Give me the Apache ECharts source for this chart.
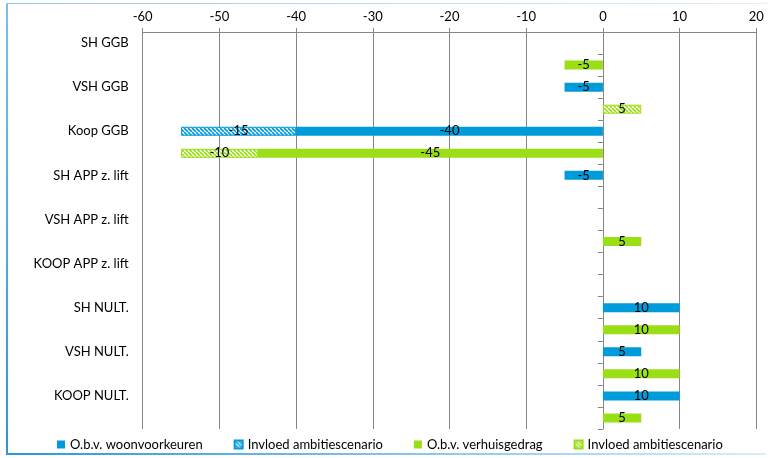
<!DOCTYPE html>
<html>
<head>
<meta charset="utf-8">
<script src="https://cdn.jsdelivr.net/npm/echarts@6/dist/echarts.min.js"></script>
<style>
  html, body { margin: 0; padding: 0; background: #ffffff; }
  #wrap { position: relative; width: 774px; height: 458px; }
  #chart { position: absolute; left: 0; top: 0; width: 774px; height: 458px; }
  .fl { position: absolute; left: 6px; top: 3px; width: 2px; height: 451px; background: linear-gradient(to bottom, #7cc0e8, #2b97d6); }
  .ft { position: absolute; left: 6px; top: 3px; width: 762px; height: 1px; background: linear-gradient(to right, #8fcaec, #e3f2fa); }
  .fb { position: absolute; left: 6px; top: 453px; width: 760px; height: 2px; background: linear-gradient(to right, #2b97d6, #d9eef9); }
</style>
</head>
<body>
<div id="wrap">
  <div id="chart"></div>
  <div class="fl"></div><div class="ft"></div><div class="fb"></div>
</div>
<script>
// ---- data ----
var categories = ['SH GGB', 'VSH GGB', 'Koop GGB', 'SH APP z. lift', 'VSH APP z. lift', 'KOOP APP z. lift', 'SH NULT.', 'VSH NULT.', 'KOOP NULT.'];
var woonvoorkeuren      = [null, -5, -40, -5, null, null, 10, 5, 10];
var woonAmbitie         = [null, null, -15, null, null, null, null, null, null];
var verhuisgedrag       = [-5, null, -45, null, 5, null, 10, 10, 5];
var verhuisAmbitie      = [null, 5, -10, null, null, null, null, null, null];
var xTicks = { min: -60, max: 20, interval: 10 };
var seriesNames = ['O.b.v. woonvoorkeuren', 'Invloed ambitiescenario', 'O.b.v. verhuisgedrag', 'Invloed ambitiescenario '];

var BLUE = '#009bda';
var GREEN = '#9ade16';

function hatch(color) {
  var c = document.createElement('canvas');
  c.width = 4; c.height = 4;
  var ctx = c.getContext('2d');
  ctx.fillStyle = '#ffffff';
  ctx.fillRect(0, 0, 4, 4);
  ctx.strokeStyle = color;
  ctx.lineWidth = 1.6;
  for (var k = -4; k <= 4; k += 4) {
    ctx.beginPath();
    ctx.moveTo(k, 0);
    ctx.lineTo(k + 4, 4);
    ctx.stroke();
  }
  return { image: c, repeat: 'repeat' };
}

// Each category occupies two slots: first for the woonvoorkeuren bar, second for verhuisgedrag.
var slots = [];
categories.forEach(function (c) { slots.push(c); slots.push(''); });
function toSlots(arr, offset) {
  var out = [];
  for (var i = 0; i < slots.length; i++) out.push(null);
  arr.forEach(function (v, i) { out[i * 2 + offset] = v; });
  return out;
}

var FONT = 'Lato';
var labelOpt = {
  show: true, position: 'inside', color: '#000', fontFamily: FONT, fontSize: 13,
  formatter: function (p) { return p.value == null ? '' : String(p.value); }
};
function bar(name, data, color, border) {
  return {
    name: name, type: 'bar', stack: 'all', yAxisIndex: 0, barWidth: 9,
    data: data,
    itemStyle: border ? { color: color, borderColor: border, borderWidth: 1 } : { color: color },
    label: labelOpt,
    emphasis: { disabled: true },
    animation: false
  };
}

var chart = echarts.init(document.getElementById('chart'));
chart.setOption({
  animation: false,
  grid: { left: 142.7, right: 17.7, top: 32, bottom: 29 },
  legend: {
    left: 52, top: 433, itemWidth: 8, itemHeight: 8, itemGap: 31,
    icon: 'rect',
    textStyle: { color: '#000', fontFamily: FONT, fontSize: 13 },
    data: seriesNames
  },
  xAxis: {
    type: 'value', position: 'top', min: xTicks.min, max: xTicks.max, interval: xTicks.interval,
    axisLine: { show: true, lineStyle: { color: '#868686', width: 1 } },
    axisTick: { show: true, length: 4, lineStyle: { color: '#868686' } },
    splitLine: { show: true, lineStyle: { color: '#868686', width: 1 } },
    axisLabel: { color: '#000', fontFamily: FONT, fontSize: 13, margin: 9 }
  },
  yAxis: [{
    type: 'category', inverse: true, data: slots, position: 'left',
    axisLine: { show: false, onZero: false },
    axisTick: { show: false },
    axisLabel: { interval: 0, color: '#000', fontFamily: FONT, fontSize: 13, margin: 14 }
  }, {
    type: 'category', inverse: true, data: slots, position: 'left',
    axisLine: { show: true, onZero: true, onZeroAxisIndex: 0, lineStyle: { color: '#868686' } },
    axisTick: { show: true, length: 5, interval: 0, lineStyle: { color: '#868686' } },
    axisLabel: { show: false }
  }],
  series: [
    bar(seriesNames[0], toSlots(woonvoorkeuren, 0), BLUE),
    bar(seriesNames[1], toSlots(woonAmbitie, 0), hatch(BLUE), BLUE),
    bar(seriesNames[2], toSlots(verhuisgedrag, 1), GREEN),
    bar(seriesNames[3], toSlots(verhuisAmbitie, 1), hatch(GREEN), GREEN)
  ]
});
</script>
</body>
</html>
